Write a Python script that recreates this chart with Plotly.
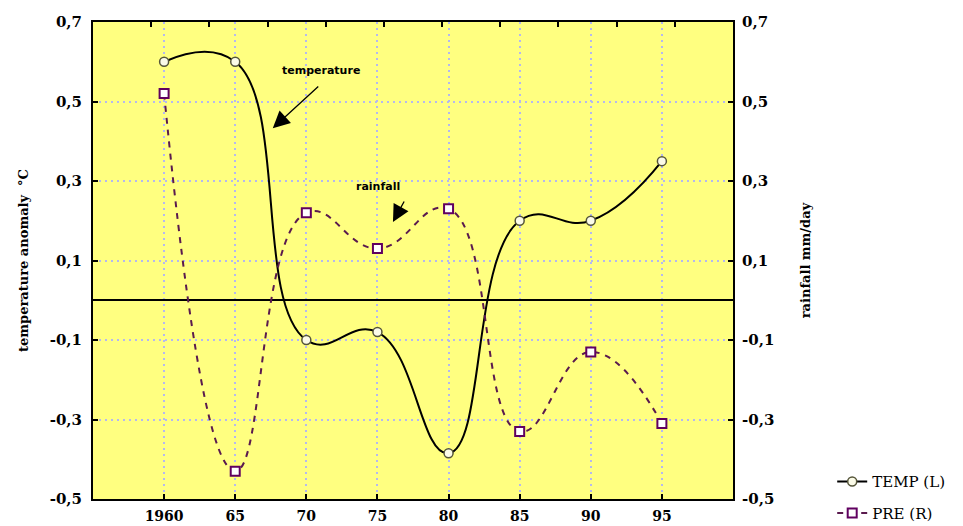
import plotly.graph_objects as go

# ---- data ----
years = [1960, 1965, 1970, 1975, 1980, 1985, 1990, 1995]
temp_anomaly = [0.60, 0.60, -0.10, -0.08, -0.385, 0.20, 0.20, 0.35]
rain_anomaly = [0.52, -0.43, 0.22, 0.13, 0.23, -0.33, -0.13, -0.31]
x_tick_labels = ["1960", "65", "70", "75", "80", "85", "90", "95"]
y_tick_vals = [0.7, 0.5, 0.3, 0.1, -0.1, -0.3, -0.5]
y_tick_labels = ["0,7", "0,5", "0,3", "0,1", "-0,1", "-0,3", "-0,5"]
top_tick_vals = [1, 2, 3, 4, 5, 6, 7, 8, 9, 10]

SERIF = "DejaVu Serif"
tickfont = dict(family=SERIF, size=15, color="black", weight="bold")
xtickfont = dict(family=SERIF, size=14, color="black", weight="bold")
titlefont = dict(family=SERIF, size=13, color="black", weight="bold")
grid_col = "#b4b8f0"

fig = go.Figure()
fig.add_trace(go.Scatter(
    x=years, y=temp_anomaly, name="TEMP (L)", mode="lines+markers",
    line=dict(color="black", width=2, shape="spline", smoothing=1.3),
    marker=dict(symbol="circle", size=9, color="#fbfbe8",
                line=dict(color="#55553a", width=1.5)),
    legend="legend", yaxis="y", xaxis="x",
))
fig.add_trace(go.Scatter(
    x=years, y=rain_anomaly, name="PRE (R)", mode="lines+markers",
    line=dict(color="#5a1a4e", width=2, shape="spline", smoothing=1.3,
              dash="6px,6px"),
    marker=dict(symbol="square", size=9, color="#ffffff",
                line=dict(color="#600060", width=2)),
    legend="legend2", yaxis="y2", xaxis="x",
))
# empty carrier so the top tick axis gets drawn
fig.add_trace(go.Scatter(x=[], y=[], xaxis="x2", yaxis="y",
                         showlegend=False, hoverinfo="skip"))

# page body has an 8px margin, so the figure is 8px smaller on each side
fig.update_layout(
    width=955, height=518,
    margin=dict(l=85, r=230, t=14, b=27, autoexpand=False),
    paper_bgcolor="white",
    plot_bgcolor="#ffff80",
    showlegend=True,
    xaxis=dict(
        range=[1955, 2000], tickvals=years, ticktext=x_tick_labels,
        ticks="inside", ticklen=5, tickwidth=2, tickcolor="black",
        showline=True, linecolor="black", linewidth=2, mirror=True,
        showgrid=True, gridcolor=grid_col, gridwidth=1.5, griddash="2px,4px",
        zeroline=False, tickfont=xtickfont, automargin=False,
        ticklabelstandoff=3,
    ),
    xaxis2=dict(
        overlaying="x", side="top", anchor="y", range=[0, 11],
        tickvals=top_tick_vals, ticks="inside", ticklen=5, tickwidth=2,
        tickcolor="black", showticklabels=False, showgrid=False,
        zeroline=False, showline=False, automargin=False,
    ),
    yaxis=dict(
        range=[-0.5, 0.7], tickvals=y_tick_vals, ticktext=y_tick_labels,
        ticks="inside", ticklen=5, tickwidth=2, tickcolor="black",
        showline=True, linecolor="black", linewidth=2, mirror=True,
        showgrid=True, gridcolor=grid_col, gridwidth=1.5, griddash="2px,4px",
        zeroline=True, zerolinecolor="black", zerolinewidth=2,
        tickfont=tickfont, automargin=False, ticklabelstandoff=6,
        title=dict(text="temperature anomaly  °C", font=titlefont, standoff=18),
    ),
    yaxis2=dict(
        overlaying="y", side="right", anchor="x",
        range=[-0.5, 0.7], tickvals=y_tick_vals, ticktext=y_tick_labels,
        ticks="inside", ticklen=5, tickwidth=2, tickcolor="black",
        showgrid=False, zeroline=False, showline=False,
        tickfont=tickfont, automargin=False, ticklabelstandoff=8,
        title=dict(text="rainfall mm/day", font=titlefont, standoff=27),
    ),
    legend=dict(
        x=1.155, y=0.036, xanchor="left", yanchor="middle",
        font=dict(family=SERIF, size=15, color="black"),
        bgcolor="rgba(0,0,0,0)", itemwidth=30,
    ),
    legend2=dict(
        x=1.155, y=-0.030, xanchor="left", yanchor="middle",
        font=dict(family=SERIF, size=15, color="black"),
        bgcolor="rgba(0,0,0,0)", itemwidth=30,
    ),
    annotations=[
        dict(x=1971.0, y=0.578, xref="x", yref="y", text="temperature",
             showarrow=False,
             font=dict(family="DejaVu Sans", size=11, color="black", weight="bold")),
        dict(x=1967.64, y=0.433, xref="x", yref="y", text="",
             showarrow=True, ax=47, ay=-43,
             arrowhead=2, arrowsize=2.6, arrowwidth=1.3, arrowcolor="black"),
        dict(x=1975.04, y=0.286, xref="x", yref="y", text="rainfall",
             showarrow=False,
             font=dict(family="DejaVu Sans", size=11, color="black", weight="bold")),
        dict(x=1976.09, y=0.197, xref="x", yref="y", text="",
             showarrow=True, ax=12, ay=-22,
             arrowhead=2, arrowsize=2.6, arrowwidth=1.3, arrowcolor="black"),
    ],
)

fig.write_html("out.html")
